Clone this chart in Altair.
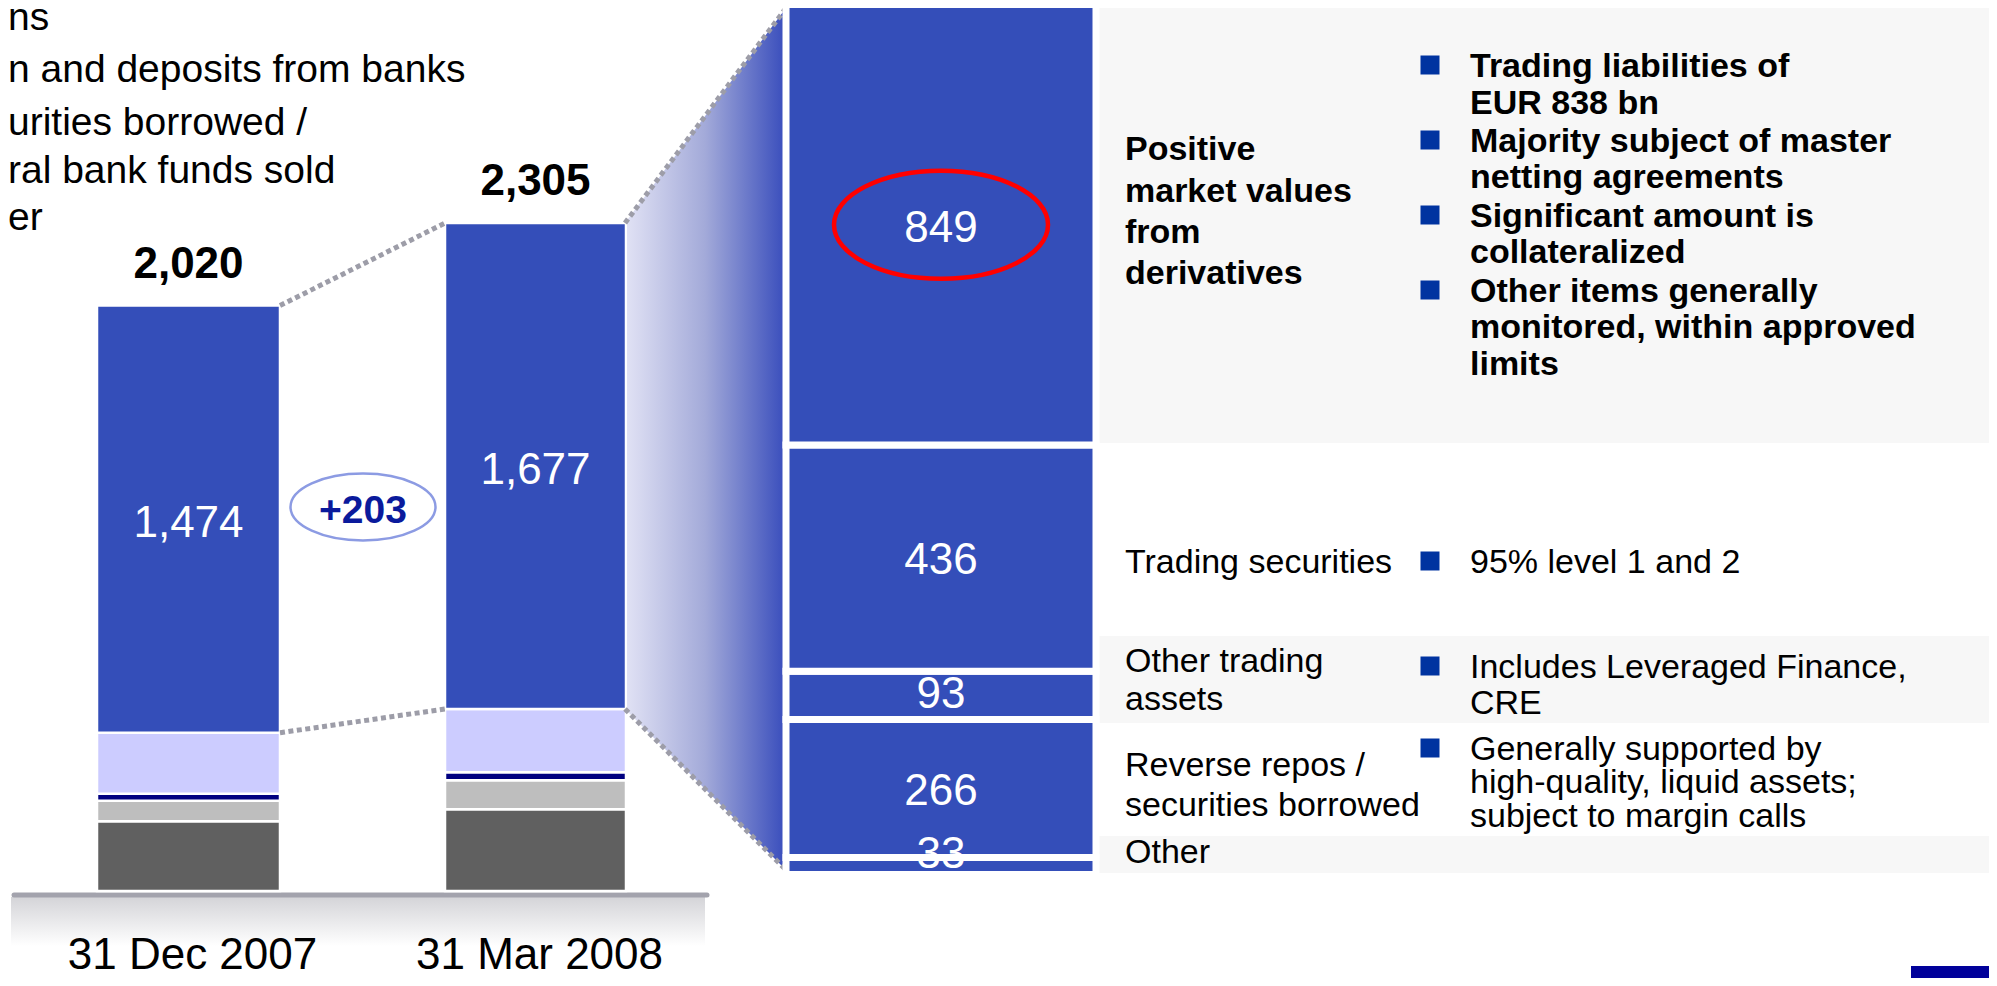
import altair as alt
import pandas as pd

# ---------------- values ----------------
dates = ["31 Dec 2007", "31 Mar 2008"]
segments = ["Trading assets", "Loans", "Cash and deposits from banks",
            "Securities borrowed / central bank funds sold", "Other"]
dec_2007 = [1474, 210, 25, 70, 241]
mar_2008 = [1677, 218, 28, 100, 282]
totals = [2020, 2305]

trading_items = ["Positive market values from derivatives", "Trading securities",
                 "Other trading assets", "Reverse repos / securities borrowed", "Other"]
trading_values = [849, 436, 93, 266, 33]

legend_lines = ["ns", "n and deposits from banks", "urities borrowed /",
                "ral bank funds sold", "er"]

row_labels = [
    ["Positive", "market values", "from", "derivatives"],
    ["Trading securities"],
    ["Other trading", "assets"],
    ["Reverse repos /", "securities borrowed"],
    ["Other"],
]
row_bullets = [
    [["Trading liabilities of", "EUR 838 bn"],
     ["Majority subject of master", "netting agreements"],
     ["Significant amount is", "collateralized"],
     ["Other items generally", "monitored, within approved", "limits"]],
    [["95% level 1 and 2"]],
    [["Includes Leveraged Finance,", "CRE"]],
    [["Generally supported by", "high-quality, liquid assets;", "subject to margin calls"]],
    [],
]

# ---------------- layout (page pixels) and styles ----------------
OFF = 8
W, H = 1981, 970
FONT = "Liberation Sans"
seg_colors = ["#344EB9", "#CCCCFF", "#000080", "#BEBEBE", "#606060"]
BLUE = "#344EB9"
DASH_COLOR = "#9d9da8"

bar_x = [(97, 280), (445, 626)]
left_px_range = (891, 223)          # pixel of value 0 and of max(totals)
right_bar_x = (786, 1096)
right_px_range = (874.5, 4.5)       # pixel of value 0 and of sum(trading_values)
right_label_dy = [4, 3, 0, 4, -11]
label_x = 1125
bullet_sq_x = 1430
bullet_txt_x = 1470
row_label_y = [[160, 202, 243, 284], [573], [672, 710], [776, 816], [863]]
bullet_y = [[[77, 114], [152, 188], [227, 263], [302, 338, 375]],
            [[573]], [[678, 714]], [[760, 793, 827]], []]
row_bg = [(8, 443), (636, 723), (836, 873)]
legend_y = [30, 82, 135, 183, 230]
date_label_y = 969
change_pos = (363, 507)

XS = alt.Scale(domain=[OFF, OFF + W], range=[0, W], nice=False, zero=False)
YS = alt.Scale(domain=[OFF, OFF + H], range=[0, H], nice=False, zero=False)
LYS = alt.Scale(domain=[0, max(totals)], range=[left_px_range[0] - OFF, left_px_range[1] - OFF],
                nice=False, zero=False)
RYS = alt.Scale(domain=[0, sum(trading_values)],
                range=[right_px_range[0] - OFF, right_px_range[1] - OFF], nice=False, zero=False)


def left_px(v):
    return left_px_range[0] + (left_px_range[1] - left_px_range[0]) * v / max(totals)


def lerp(p, q, x):
    return p[1] + (q[1] - p[1]) * (x - p[0]) / (q[0] - p[0])


def X(f="x"):
    return alt.X(f + ":Q", scale=XS, axis=None)


def Ypx(f="y"):
    return alt.Y(f + ":Q", scale=YS, axis=None)


def txt(df, **kw):
    base = dict(font=FONT, align="left", baseline="alphabetic", color="black", fontSize=34)
    base.update(kw)
    return alt.Chart(df).mark_text(**base).encode(x=X(), y=Ypx(), text="text:N")


layers = []

# row backgrounds of the table
bg = pd.DataFrame([{"x": 1099, "x2": 1997, "y": a, "y2": b} for a, b in row_bg])
layers.append(alt.Chart(bg).mark_rect(color="#F7F7F7").encode(
    x=X(), x2="x2:Q", y=Ypx(), y2="y2:Q"))

# shelf under the bars
shelf = pd.DataFrame([{"x": 11, "x2": 705, "y": 897, "y2": 946}])
layers.append(alt.Chart(shelf).mark_rect(
    color=alt.Gradient(gradient="linear", x1=0, y1=0, x2=0, y2=1,
                       stops=[alt.GradientStop(color="#d4d4d8", offset=0),
                              alt.GradientStop(color="#ffffff", offset=1)])
).encode(x=X(), x2="x2:Q", y=Ypx(), y2="y2:Q"))
shelf_line = pd.DataFrame([{"x": 14, "y": 895}, {"x": 707, "y": 895}])
layers.append(alt.Chart(shelf_line).mark_line(color="#a3a3ad", strokeWidth=5, strokeCap="round").encode(
    x=X(), y=Ypx()))

# stacked bars
rows = []
for d, vals, (x0, x1) in zip(dates, [dec_2007, mar_2008], bar_x):
    cum = 0
    for seg, v in reversed(list(zip(segments, vals))):
        rows.append({"date": d, "segment": seg, "x": x0, "x2": x1, "v0": cum, "v1": cum + v, "value": v})
        cum += v
bars = pd.DataFrame(rows)
layers.append(alt.Chart(bars).mark_rect(stroke="white", strokeWidth=2.5).encode(
    x=X(), x2="x2:Q",
    y=alt.Y("v0:Q", scale=LYS, axis=None), y2="v1:Q",
    color=alt.Color("segment:N", scale=alt.Scale(domain=segments, range=seg_colors), legend=None)))

# dotted connectors between the two bars (value scale)
conn_l = pd.DataFrame([
    {"g": "top", "x": bar_x[0][1], "v": totals[0]},
    {"g": "top", "x": bar_x[1][0], "v": totals[1]},
    {"g": "mid", "x": bar_x[0][1], "v": totals[0] - dec_2007[0]},
    {"g": "mid", "x": bar_x[1][0], "v": totals[1] - mar_2008[0]},
])
layers.append(alt.Chart(conn_l).mark_line(color=DASH_COLOR, strokeWidth=5, strokeDash=[5, 3.5]).encode(
    x=X(), y=alt.Y("v:Q", scale=LYS, axis=None), detail="g:N"))

# gradient zoom wedge
p_top0 = (bar_x[1][1] - 1, left_px(totals[1]))
p_top1 = (right_bar_x[0], right_px_range[1] + 3.5)
p_bot0 = (bar_x[1][1] - 1, left_px(totals[1] - mar_2008[0]))
p_bot1 = (right_bar_x[0], right_px_range[0] - 4.5)
wx0, wx1 = bar_x[1][1] + 1, right_bar_x[0] - 3
wedge = pd.DataFrame([
    {"x": wx0, "y": lerp(p_top0, p_top1, wx0), "y2": lerp(p_bot0, p_bot1, wx0)},
    {"x": wx1, "y": lerp(p_top0, p_top1, wx1), "y2": lerp(p_bot0, p_bot1, wx1)},
])
layers.append(alt.Chart(wedge).mark_area(
    color=alt.Gradient(gradient="linear", x1=0, y1=0, x2=1, y2=0,
                       stops=[alt.GradientStop(color="#e0e1f4", offset=0),
                              alt.GradientStop(color="#a3aad9", offset=0.5),
                              alt.GradientStop(color="#3c50bd", offset=1)])
).encode(x=X(), y=Ypx(), y2="y2:Q"))

conn_r = pd.DataFrame([
    {"g": "top", "x": p_top0[0], "y": p_top0[1]}, {"g": "top", "x": p_top1[0], "y": p_top1[1]},
    {"g": "bot", "x": p_bot0[0], "y": p_bot0[1]}, {"g": "bot", "x": p_bot1[0], "y": p_bot1[1]},
])
layers.append(alt.Chart(conn_r).mark_line(color=DASH_COLOR, strokeWidth=5, strokeDash=[5, 3.5]).encode(
    x=X(), y=Ypx(), detail="g:N"))

# trading assets breakdown bar
rrows = []
cum = 0
for item, v in reversed(list(zip(trading_items, trading_values))):
    rrows.append({"item": item, "x": right_bar_x[0], "x2": right_bar_x[1], "v0": cum, "v1": cum + v,
                  "mid": cum + v / 2, "text": f"{v:,}"})
    cum += v
rbar = pd.DataFrame(rrows)
layers.append(alt.Chart(rbar).mark_rect(color=BLUE, stroke="white", strokeWidth=7).encode(
    x=X(), x2="x2:Q", y=alt.Y("v0:Q", scale=RYS, axis=None), y2="v1:Q"))

rcx = (right_bar_x[0] + right_bar_x[1]) / 2
for item, dy in zip(trading_items, right_label_dy):
    r = rbar[rbar["item"] == item].assign(x=rcx)
    layers.append(alt.Chart(r).mark_text(font=FONT, fontSize=44, color="white", baseline="middle",
                                         align="center", dy=dy).encode(
        x=X(), y=alt.Y("mid:Q", scale=RYS, axis=None), text="text:N"))

# labels in / over the left bars
lab = pd.DataFrame([{"x": (a + b) / 2, "mid": t - v / 2, "text": f"{v:,}"}
                    for (a, b), t, v in zip(bar_x, totals, [dec_2007[0], mar_2008[0]])])
layers.append(alt.Chart(lab).mark_text(font=FONT, fontSize=44, color="white", baseline="middle",
                                       align="center", dy=5).encode(
    x=X(), y=alt.Y("mid:Q", scale=LYS, axis=None), text="text:N"))
tot = pd.DataFrame([{"x": (a + b) / 2, "v": t, "text": f"{t:,}"} for (a, b), t in zip(bar_x, totals)])
layers.append(alt.Chart(tot).mark_text(font=FONT, fontSize=44, fontWeight="bold", color="black",
                                       baseline="alphabetic", align="center", dy=-28).encode(
    x=X(), y=alt.Y("v:Q", scale=LYS, axis=None), text="text:N"))

# change bubble
chg = pd.DataFrame([{"x": change_pos[0], "y": change_pos[1], "text": f"+{mar_2008[0] - dec_2007[0]}"}])
layers.append(alt.Chart(chg).mark_point(
    shape="M-1,0A1,0.462,0,1,1,1,0A1,0.462,0,1,1,-1,0Z", size=145 ** 2, filled=True,
    fill="white", stroke="#8c9be3", strokeWidth=2.5, opacity=1).encode(x=X(), y=Ypx()))
layers.append(alt.Chart(chg).mark_text(font=FONT, fontSize=39, fontWeight="bold", color="#0A1A9C",
                                       baseline="middle", align="center", dy=4).encode(
    x=X(), y=Ypx(), text="text:N"))

# red highlight ellipse around the derivatives value
red = rbar[rbar["item"] == trading_items[0]].assign(x=rcx)
layers.append(alt.Chart(red).mark_point(
    shape="M-1,0A1,0.505,0,1,1,1,0A1,0.505,0,1,1,-1,0Z", size=214 ** 2, filled=False,
    stroke="#FF0000", strokeWidth=4.5, opacity=1).encode(
    x=X(), y=alt.Y("mid:Q", scale=RYS, axis=None)))

# date labels
dl = pd.DataFrame([{"x": (a + b) / 2 + 4, "y": date_label_y, "text": d} for (a, b), d in zip(bar_x, dates)])
layers.append(txt(dl, fontSize=44, align="center"))

# legend (cut off at the slide's left edge)
lg = pd.DataFrame([{"x": OFF, "y": y, "text": t} for t, y in zip(legend_lines, legend_y)])
layers.append(txt(lg, fontSize=39))

# table text
bold_rows, norm_rows, squares = [], [], []
for i, (labels, ys) in enumerate(zip(row_labels, row_label_y)):
    target = bold_rows if i == 0 else norm_rows
    for t, y in zip(labels, ys):
        target.append({"x": label_x, "y": y, "text": t})
for i, (blist, ylist) in enumerate(zip(row_bullets, bullet_y)):
    target = bold_rows if i == 0 else norm_rows
    for lines, ys in zip(blist, ylist):
        squares.append({"x": bullet_sq_x, "y": ys[0] - 12})
        for t, y in zip(lines, ys):
            target.append({"x": bullet_txt_x, "y": y, "text": t})
layers.append(txt(pd.DataFrame(bold_rows), fontWeight="bold"))
layers.append(txt(pd.DataFrame(norm_rows)))
layers.append(alt.Chart(pd.DataFrame(squares)).mark_square(size=19 ** 2, color="#0033A0", opacity=1).encode(
    x=X(), y=Ypx()))

# footer block at bottom right
ft = pd.DataFrame([{"x": 1911, "x2": 1997, "y": 966, "y2": 978}])
layers.append(alt.Chart(ft).mark_rect(color="#00009A").encode(x=X(), x2="x2:Q", y=Ypx(), y2="y2:Q"))

chart = alt.layer(*layers).resolve_scale(y="independent", x="independent", color="independent").properties(
    width=W, height=H, padding=0, autosize=alt.AutoSizeParams(type="none"), background="white"
).configure_view(stroke=None)

chart.save("out.html", embed_options={"renderer": "svg", "actions": False})
